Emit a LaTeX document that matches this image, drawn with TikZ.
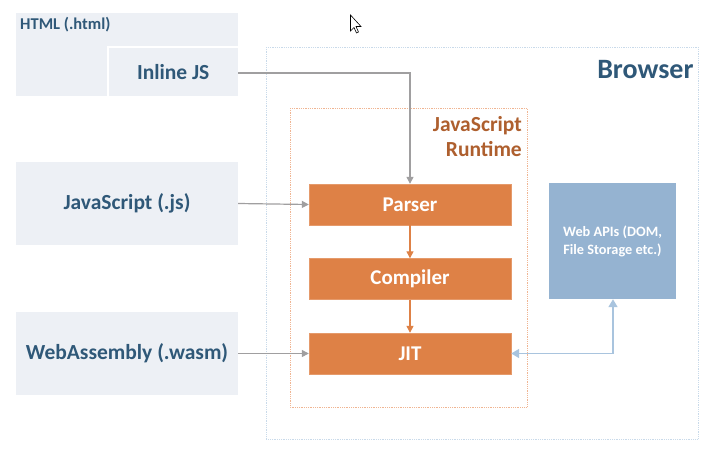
\documentclass[tikz,border=0pt]{standalone}
\usepackage{fontspec}
\setmainfont{Carlito}
\usetikzlibrary{arrows.meta}
\definecolor{srcbg}{HTML}{EDF0F5}
\definecolor{srctxt}{HTML}{2F5878}
\definecolor{orng}{HTML}{DE8146}
\definecolor{rttxt}{HTML}{AE5F2E}
\definecolor{webapi}{HTML}{95B3D1}
\definecolor{webarr}{HTML}{A9C4DE}
\definecolor{grayarr}{HTML}{A09FA0}
\definecolor{brbord}{HTML}{C9DAEA}
\definecolor{rtbord}{HTML}{F0B592}
\tikzset{
  srcbox/.style={fill=srcbg, draw=none, inner sep=0pt, font=\bfseries\fontsize{21.5}{24}\selectfont, text=srctxt},
  stagebox/.style={fill=orng, draw=orng!80!white, minimum width=202pt, minimum height=41pt, inner sep=0pt, text=white, font=\bfseries\fontsize{21}{24}\selectfont},
  grayline/.style={draw=grayarr, line width=1.2pt, -{Triangle[length=7pt,width=7pt]}},
  orngline/.style={draw=orng, line width=1.2pt, -{Triangle[length=7pt,width=7pt]}},
  blueline/.style={draw=webarr, line width=1.6pt, {Triangle[length=8pt,width=9pt]}-{Triangle[length=8pt,width=9pt]}}
}
\begin{document}
\begin{tikzpicture}[x=1pt,y=-1pt]
\useasboundingbox[fill=white] (0,0) rectangle (708,450);
% Browser
\draw[brbord, densely dotted, line width=0.8pt] (266,47) rectangle (698,439);
\node[anchor=east, text=srctxt, font=\bfseries\fontsize{28}{30}\selectfont] (browser) at (697,70) {Browser};
% Runtime
\draw[rtbord, densely dotted, line width=0.8pt] (290,108) rectangle (527,407);
\node[anchor=north east, align=right, text=rttxt, font=\bfseries\fontsize{21.5}{25}\selectfont, inner sep=0pt] (rt) at (522,116.5) {JavaScript\\Runtime};
% Sources
\fill[srcbg] (16,13) rectangle (238,96);
\node[anchor=north west, inner sep=0pt, text=srctxt, font=\bfseries\fontsize{16.5}{18}\selectfont] (html) at (20,17) {HTML (.html)};
\node[srcbox, minimum width=130pt, minimum height=49pt, anchor=north west] (inl) at (108,47) {Inline JS};
\draw[white, line width=1.2pt] (108,96) -- (108,47) -- (238,47);
\node[srcbox, minimum width=222pt, minimum height=83pt] (js) at (127,203.5) {JavaScript (.js)};
\node[srcbox, minimum width=222pt, minimum height=83pt] (wasm) at (127,353.5) {WebAssembly (.wasm)};
% Stages
\node[stagebox] (parser) at (410,204.5) {Parser};
\node[stagebox] (comp) at (410,279) {Compiler};
\node[stagebox] (jit) at (410,353.5) {JIT};
% Web APIs
\node[fill=webapi, minimum width=127pt, minimum height=116pt, inner sep=0pt, text=white, align=center, font=\bfseries\fontsize{14.3}{18}\selectfont] (web) at (612.5,241) {Web APIs (DOM,\\File Storage etc.)};
% Arrows
\coordinate (c1) at (410,73);
\draw[grayline] (inl.east |- 0,73) -- (c1) -- (parser.north);
\draw[grayline] (js.east) -- (parser.west);
\draw[grayline] (wasm.east) -- (jit.west);
\draw[orngline] (parser.south) -- (comp.north);
\draw[orngline] (comp.south) -- (jit.north);
\coordinate (c2) at (613,353.5);
\draw[blueline] (web.south -| c2) -- (c2) -- (jit.east);
% cursor
\draw[black, fill=white, line width=0.6pt] (350.5,15) -- (350.5,31) -- (354,27.5) -- (356.5,33) -- (358.5,32) -- (356,26.5) -- (361,26.5) -- cycle;
\end{tikzpicture}
\end{document}
